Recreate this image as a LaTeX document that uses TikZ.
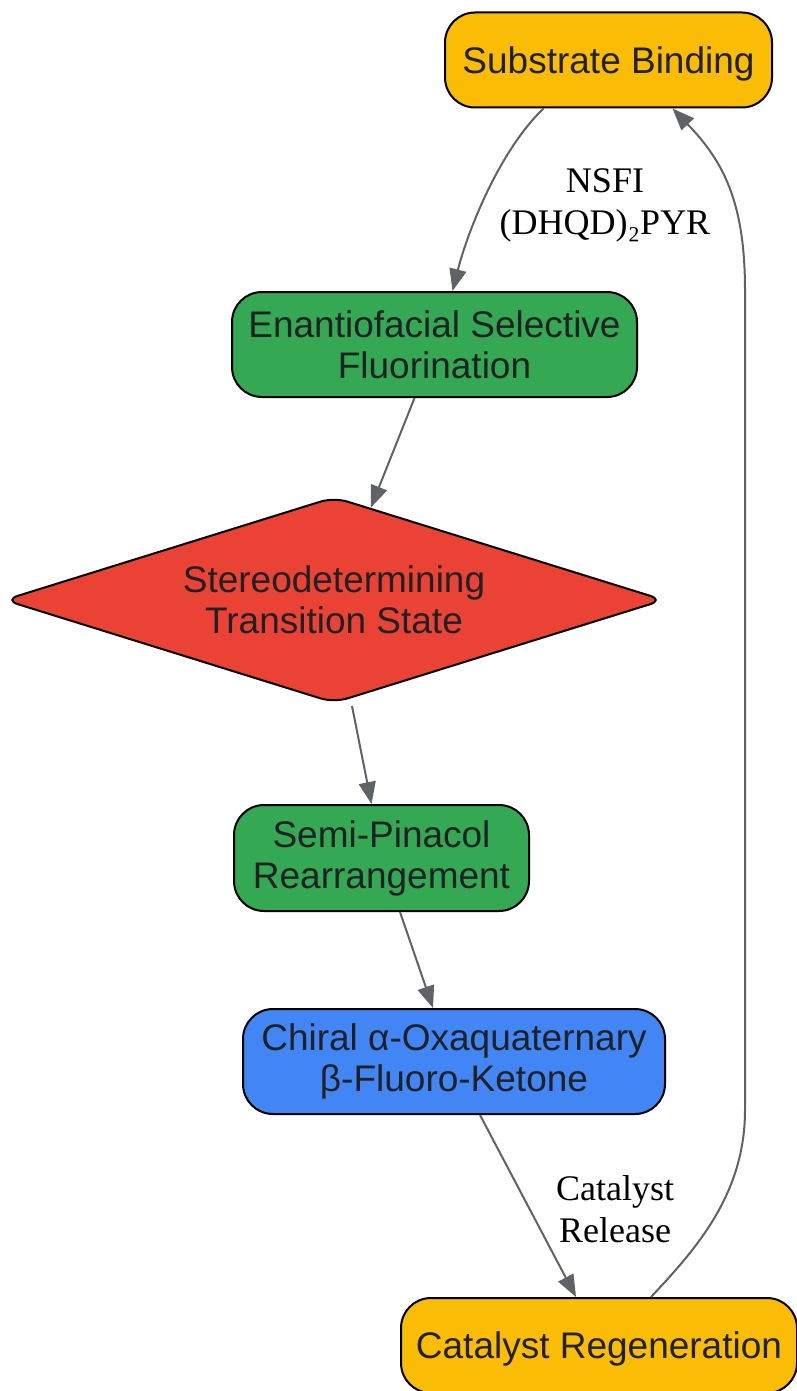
\documentclass[tikz,border=0pt]{standalone}
\usepackage{fontspec}
\setmainfont{Liberation Sans}
\newfontfamily\lblfont{Liberation Serif}
\usetikzlibrary{shapes.geometric,arrows.meta}
\definecolor{cyellow}{HTML}{FBBC05}
\definecolor{cgreen}{HTML}{34A853}
\definecolor{cred}{HTML}{EA4335}
\definecolor{cblue}{HTML}{4285F4}
\definecolor{cedge}{HTML}{5F6368}
\definecolor{ctext}{HTML}{202124}
\tikzset{
  procbox/.style={draw=black, line width=2pt, rounded corners=30pt, align=center,
    text=ctext, inner sep=0pt, font=\fontsize{37}{41}\selectfont},
  oneline/.style={text depth=0pt},
  decbox/.style={draw=black, line width=2pt, diamond, aspect=3.2, rounded corners=14pt,
    align=center, text=ctext, inner sep=0pt, font=\fontsize{37}{41}\selectfont},
  conn/.style={draw=cedge, line width=2pt, -{Triangle[length=22pt,width=17pt]}},
  elabel/.style={align=center, text=black, font=\lblfont\fontsize{36}{42}\selectfont}
}
\begin{document}
\begin{tikzpicture}[x=1pt,y=-1pt]
\useasboundingbox (0,0) rectangle (796,1391);
\node[procbox, oneline, fill=cyellow, minimum width=327pt, minimum height=95pt] (sb) at (608.5,60) {Substrate Binding};
\node[procbox, fill=cgreen, minimum width=405pt, minimum height=105pt] (ef) at (434.5,344.5) {Enantiofacial Selective\\Fluorination};
\node[decbox, fill=cred, minimum width=660pt, minimum height=206pt] (ts) at (334,600) {Stereodetermining\\Transition State};
\node[procbox, fill=cgreen, minimum width=295pt, minimum height=106pt] (sp) at (381.5,858) {Semi-Pinacol\\Rearrangement};
\node[procbox, fill=cblue, minimum width=422pt, minimum height=105pt] (ch) at (454,1061.5) {Chiral α-Oxaquaternary\\β-Fluoro-Ketone};
\node[procbox, oneline, fill=cyellow, minimum width=396pt, minimum height=95pt] (cr) at (599,1345.5) {Catalyst Regeneration};

\draw[conn] ([xshift=-65pt]sb.south) .. controls (500,150) and (468,230) .. ([xshift=18pt]ef.north);
\node[elabel] (l1) at (605,205) {NSFI\\(DHQD)₂PYR};
\draw[conn] ([xshift=-20pt]ef.south) -- (ts);
\draw[conn] ([xshift=18pt,yshift=-2pt]ts.south) -- ([xshift=-10pt]sp.north);
\draw[conn] ([xshift=18.5pt]sp.south) -- ([xshift=-21pt]ch.north);
\draw[conn] ([xshift=26pt]ch.south) -- ([xshift=-23pt]cr.north);
\node[elabel] (l2) at (615,1209) {Catalyst\\Release};
\draw[conn] ([xshift=52pt]cr.north) .. controls (695,1250) and (745,1195) .. (745,1110)
  -- (745,290) .. controls (745,200) and (722,160) .. ([xshift=64pt]sb.south);
\end{tikzpicture}
\end{document}
